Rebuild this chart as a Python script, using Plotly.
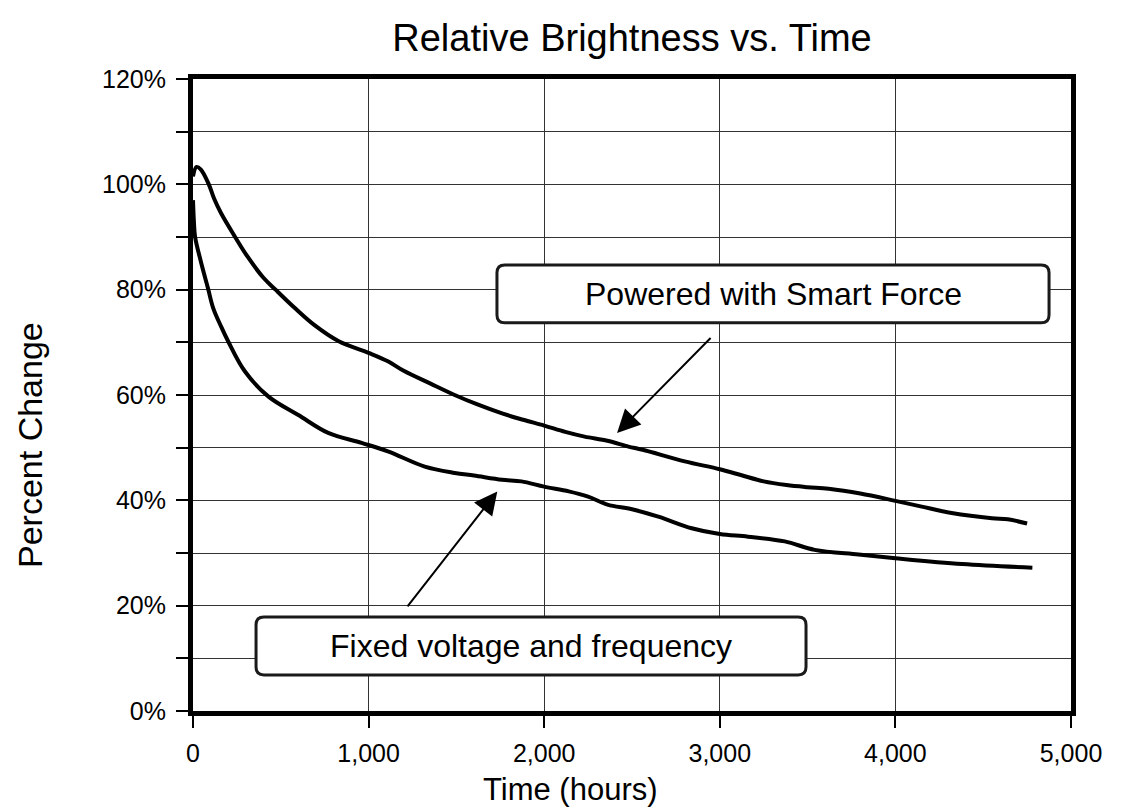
import plotly.graph_objects as go

# ---- data ----
smart_t = [0, 20, 45, 90, 120, 160, 240, 310, 400, 470, 580, 690, 830, 1000, 1110, 1200,
           1350, 1490, 1620, 1760, 1880, 2000, 2120, 2230, 2360, 2480, 2560, 2800, 3000,
           3120, 3250, 3380, 3500, 3620, 3800, 4000, 4150, 4320, 4550, 4640, 4750]
smart_p = [101.5, 103.3, 102.8, 100.0, 97.3, 94.5, 90.0, 86.3, 82.3, 80.0, 76.5, 73.3, 70.2,
           68.0, 66.4, 64.6, 62.2, 60.0, 58.2, 56.5, 55.3, 54.2, 53.0, 52.1, 51.3, 50.2, 49.6,
           47.4, 45.9, 44.8, 43.6, 42.9, 42.5, 42.2, 41.3, 39.9, 38.8, 37.6, 36.6, 36.4, 35.6]

fixed_t = [0, 5, 12, 45, 85, 115, 160, 200, 295, 430, 600, 770, 960, 1110, 1320, 1490, 1600,
           1760, 1870, 2000, 2140, 2250, 2360, 2500, 2650, 2840, 3000, 3160, 3370, 3540, 3790,
           4000, 4380, 4780]
fixed_p = [97.0, 93.0, 90.0, 85.3, 80.3, 76.5, 73.0, 70.2, 64.5, 59.7, 56.2, 52.8, 50.9, 49.3,
           46.4, 45.2, 44.7, 43.9, 43.6, 42.6, 41.7, 40.7, 39.2, 38.3, 36.9, 34.7, 33.6, 33.1,
           32.2, 30.6, 29.7, 29.0, 27.9, 27.2]

x_ticks = [0, 1000, 2000, 3000, 4000, 5000]
x_tick_labels = ["0", "1,000", "2,000", "3,000", "4,000", "5,000"]
y_ticks = [0, 20, 40, 60, 80, 100, 120]
y_tick_labels = ["0%", "20%", "40%", "60%", "80%", "100%", "120%"]

labels = ["Powered with Smart Force", "Fixed voltage and frequency"]
FONT = "Liberation Sans, Arial, sans-serif"

fig = go.Figure()
fig.add_trace(go.Scatter(x=smart_t, y=smart_p, mode="lines", line=dict(color="black", width=4),
                         line_shape="spline", showlegend=False, name=labels[0]))
fig.add_trace(go.Scatter(x=fixed_t, y=fixed_p, mode="lines", line=dict(color="black", width=4),
                         line_shape="spline", showlegend=False, name=labels[1]))


def rounded_box(x0, x1, y0, y1, rx, ry):
    return (f"M {x0+rx},{y0} L {x1-rx},{y0} Q {x1},{y0} {x1},{y0+ry} "
            f"L {x1},{y1-ry} Q {x1},{y1} {x1-rx},{y1} L {x0+rx},{y1} "
            f"Q {x0},{y1} {x0},{y1-ry} L {x0},{y0+ry} Q {x0},{y0} {x0+rx},{y0} Z")

# label boxes (layout, in axis units)
boxes = [
    dict(x0=1731, x1=4875, y0=73.7, y1=84.7),
    dict(x0=359, x1=3491, y0=6.84, y1=17.85),
]
RX, RY = 45, 1.5
for b, txt in zip(boxes, labels):
    fig.add_shape(type="path", path=rounded_box(b["x0"], b["x1"], b["y0"], b["y1"], RX, RY),
                  xref="x", yref="y", line=dict(color="#1a1a1a", width=3),
                  fillcolor="white", layer="above")
    fig.add_annotation(x=(b["x0"] + b["x1"]) / 2, y=(b["y0"] + b["y1"]) / 2, text=txt,
                       showarrow=False, font=dict(family=FONT, size=32, color="black"),
                       xref="x", yref="y")

# arrows: (head_x, head_y, tail_x, tail_y)
arrows = [(2415, 52.8, 2956, 71.1), (1733, 41.7, 1215, 19.6)]
for hx, hy, tx, ty in arrows:
    fig.add_annotation(x=hx, y=hy, ax=tx, ay=ty, xref="x", yref="y", axref="x", ayref="y",
                       text="", showarrow=True, arrowhead=2, arrowsize=2.3, arrowwidth=2,
                       arrowcolor="black")

# axis titles as annotations (placed like the reference)
fig.add_annotation(text="Time (hours)", xref="paper", yref="paper", x=0.4294, y=-0.1235,
                   xanchor="center", yanchor="middle", showarrow=False,
                   font=dict(family=FONT, size=31, color="black"))
fig.add_annotation(text="Percent Change", xref="paper", yref="paper", x=-0.1856, y=0.421,
                   xanchor="center", yanchor="middle", showarrow=False, textangle=-90,
                   font=dict(family=FONT, size=34, color="black"))

fig.update_layout(
    width=1125, height=812,
    margin=dict(l=185, r=62, t=71, b=109, autoexpand=False),
    paper_bgcolor="white", plot_bgcolor="white",
    font=dict(family=FONT, color="black"),
    title=dict(text="Relative Brightness vs. Time", x=0.5, xref="paper", xanchor="center",
               y=0.964, yref="container", yanchor="middle",
               font=dict(family=FONT, size=38, color="black")),
)
fig.update_xaxes(range=[0, 5000], tickvals=x_ticks, ticktext=x_tick_labels,
                 ticks="outside", ticklen=12, tickwidth=2, tickcolor="black",
                 ticklabelstandoff=4, automargin=False,
                 showline=True, linewidth=5, linecolor="black", mirror=True,
                 showgrid=True, gridcolor="#333333", gridwidth=1.3, zeroline=False,
                 tickfont=dict(family=FONT, size=25, color="black"))
fig.update_yaxes(range=[0, 120], tickvals=y_ticks, ticktext=y_tick_labels,
                 ticks="outside", ticklen=12, tickwidth=2, tickcolor="black",
                 ticklabelstandoff=5, automargin=False,
                 showline=True, linewidth=5, linecolor="black", mirror=True,
                 showgrid=True, gridcolor="#333333", gridwidth=1.3, zeroline=False,
                 minor=dict(dtick=10, ticks="outside", ticklen=12, tickwidth=2, tickcolor="black",
                            showgrid=True, gridcolor="#333333", gridwidth=1.3),
                 tickfont=dict(family=FONT, size=25, color="black"))

fig.write_html("out.html")
